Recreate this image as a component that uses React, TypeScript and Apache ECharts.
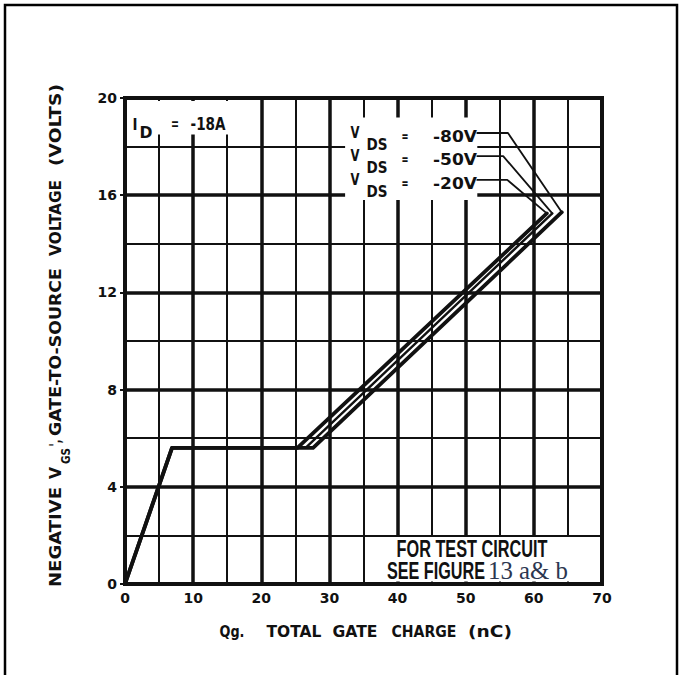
import React, { useEffect, useRef } from 'react';
import * as echarts from 'echarts';

// Gate charge curves, Qg (nC) vs -VGS (V), ID = -18A
const vds20: number[][] = [[0, 0], [6.9, 5.6], [25.3, 5.6], [61.9, 15.25]];
const vds50: number[][] = [[0, 0], [6.9, 5.6], [26.5, 5.6], [62.7, 15.25]];
const vds80: number[][] = [[0, 0], [6.9, 5.6], [27.6, 5.6], [64.1, 15.3]];

// Leader lines from each VDS label to the end of its curve
const leader80: number[][] = [[51.7, 18.56], [56.2, 18.56], [64.1, 15.3]];
const leader50: number[][] = [[51.7, 17.61], [55.5, 17.61], [62.7, 15.25]];
const leader20: number[][] = [[51.7, 16.63], [56.1, 16.63], [61.9, 15.25]];

const xRange = [0, 70];
const yRange = [0, 20];

const INK = '#111';
const SANS = 'DejaVu Sans';

const measureCtx = document.createElement('canvas').getContext('2d') as CanvasRenderingContext2D;
function textWidth(text: string, size: number, family: string, weight: string) {
  measureCtx.font = `${weight} ${size}px ${family}`;
  return measureCtx.measureText(text).width;
}

type Piece = {
  text: string; x: number; y: number; w: number; size: number;
  rot?: boolean; family?: string; weight?: string; color?: string;
};

function textEl(p: Piece) {
  const family = p.family || SANS;
  const weight = p.weight || 'bold';
  const natural = textWidth(p.text, p.size, family, weight);
  return {
    type: 'text',
    x: p.x,
    y: p.y,
    rotation: p.rot ? Math.PI / 2 : 0,
    scaleX: p.w / natural,
    z: 10,
    style: {
      text: p.text,
      fontSize: p.size,
      fontFamily: family,
      fontWeight: weight,
      fill: p.color || INK,
      align: 'center',
      verticalAlign: 'middle',
    },
  };
}

const yTitle: Piece[] = [
  { text: 'NEGATIVE', x: 56, y: 537, w: 100, size: 15, rot: true },
  { text: 'V', x: 56, y: 473, w: 12, size: 15, rot: true },
  { text: 'GS', x: 66, y: 456, w: 16, size: 12, rot: true },
  { text: "',", x: 56, y: 443, w: 7, size: 15, rot: true },
  { text: 'GATE-TO-SOURCE', x: 56, y: 352, w: 168, size: 15, rot: true },
  { text: 'VOLTAGE', x: 56, y: 218, w: 76, size: 15, rot: true },
  { text: '(VOLTS)', x: 56, y: 125, w: 82, size: 15, rot: true },
];

const xTitle: Piece[] = [
  { text: 'Qg.', x: 232, y: 632, w: 25, size: 15 },
  { text: 'TOTAL', x: 294, y: 632, w: 55, size: 15 },
  { text: 'GATE', x: 355, y: 632, w: 45, size: 15 },
  { text: 'CHARGE', x: 424, y: 632, w: 65, size: 15 },
  { text: '(nC)', x: 490, y: 632, w: 44, size: 15 },
];

const annotations: Piece[] = [
  { text: 'I', x: 135, y: 124, w: 5, size: 16 },
  { text: 'D', x: 146, y: 132, w: 13, size: 16 },
  { text: '=', x: 175, y: 124, w: 8, size: 15 },
  { text: '-18A', x: 208, y: 124, w: 35, size: 17 },
  ...[137, 160, 184].flatMap((row, i) => [
    { text: 'V', x: 355, y: row - 4, w: 9, size: 15 },
    { text: 'DS', x: 377, y: row + 8, w: 21, size: 15 },
    { text: '=', x: 405, y: row - 1, w: 7, size: 14 },
    { text: ['-80V', '-50V', '-20V'][i], x: 455, y: row, w: 44, size: 16 },
  ]),
  { text: 'FOR TEST CIRCUIT', x: 472, y: 549, w: 151, size: 23, family: 'Liberation Sans' },
  { text: 'SEE FIGURE', x: 436, y: 571, w: 98, size: 23, family: 'Liberation Sans' },
  { text: '13 a& b', x: 528, y: 570, w: 80, size: 26, family: 'Liberation Serif', weight: 'normal', color: '#2c3650' },
];

export default function App() {
  const ref = useRef<HTMLDivElement>(null);

  useEffect(() => {
    document.body.style.margin = '0';
    const chart = echarts.init(ref.current as HTMLDivElement, null, { renderer: 'svg' });

    const lineSeries = (name: string, data: number[][], width: number) => ({
      name,
      type: 'line',
      data,
      symbol: 'none',
      silent: true,
      z: 3,
      lineStyle: { color: INK, width, join: 'round', cap: 'round' },
    });

    chart.setOption({
      animation: false,
      backgroundColor: '#fff',
      grid: {
        left: 125, top: 98, width: 477, height: 486,
        show: true, borderColor: INK, borderWidth: 4, z: 1,
      },
      xAxis: {
        type: 'value',
        min: xRange[0], max: xRange[1], interval: 10,
        axisLine: { show: true, lineStyle: { color: INK, width: 4 } },
        axisTick: { show: false },
        axisLabel: { color: INK, fontFamily: SANS, fontWeight: 'bold', fontSize: 14, margin: 7 },
        splitLine: { show: true, lineStyle: { color: INK, width: 3.5 } },
        minorTick: { show: false, splitNumber: 2 },
        minorSplitLine: { show: true, lineStyle: { color: INK, width: 2 } },
      },
      yAxis: {
        type: 'value',
        min: yRange[0], max: yRange[1], interval: 4,
        axisLine: { show: true, lineStyle: { color: INK, width: 4 } },
        axisTick: { show: true, length: 5, lineStyle: { color: INK, width: 2 } },
        axisLabel: { color: INK, fontFamily: SANS, fontWeight: 'bold', fontSize: 14, margin: 8 },
        splitLine: { show: true, lineStyle: { color: INK, width: 3.5 } },
        minorTick: { show: false, splitNumber: 2 },
        minorSplitLine: { show: true, lineStyle: { color: INK, width: 2 } },
      },
      series: [
        lineSeries('VDS = -20V', vds20, 3.8),
        lineSeries('VDS = -50V', vds50, 2.4),
        lineSeries('VDS = -80V', vds80, 3.8),
        lineSeries('leader -80V', leader80, 1.8),
        lineSeries('leader -50V', leader50, 1.8),
        lineSeries('leader -20V', leader20, 1.8),
      ],
    });

    // white panels behind the annotations, placed from data extents
    const px = (x: number, y: number) => chart.convertToPixel({ gridIndex: 0 }, [x, y]) as number[];
    const panel = (x0: number, y0: number, x1: number, y1: number, inset: number[]) => {
      const a = px(x0, y1);
      const b = px(x1, y0);
      return {
        type: 'rect',
        z: 2,
        silent: true,
        shape: {
          x: a[0] + inset[3],
          y: a[1] + inset[0],
          width: b[0] - a[0] - inset[1] - inset[3],
          height: b[1] - a[1] - inset[0] - inset[2],
        },
        style: { fill: '#fff' },
      };
    };

    chart.setOption({
      graphic: [
        {
          type: 'rect', z: 20, silent: true,
          shape: { x: 5, y: 5, width: 672, height: 720 },
          style: { fill: 'none', stroke: '#000', lineWidth: 2.5 },
        },
        panel(0, 18.5, 17.6, 20, [3, 0, 0, 3]),
        panel(32.3, 15.8, 51.7, 19.2, [0, 0, 0, 0]),
        panel(35, 0, 70, 2, [1.5, 2.5, 2.5, 1.5]),
        ...yTitle.map(textEl),
        ...xTitle.map(textEl),
        ...annotations.map(textEl),
      ],
    });

    return () => chart.dispose();
  }, []);

  return (
    <div
      ref={ref}
      style={{ position: 'fixed', left: 0, top: 0, width: 683, height: 675, background: '#fff' }}
    />
  );
}
